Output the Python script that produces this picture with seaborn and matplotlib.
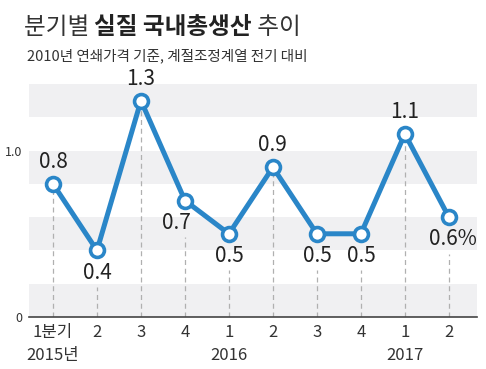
import matplotlib.pyplot as plt
import seaborn as sns
import pandas as pd

# data
quarters = ["1분기\n2015년", "2", "3", "4", "1\n2016", "2", "3", "4", "1\n2017", "2"]
growth = [0.8, 0.4, 1.3, 0.7, 0.5, 0.9, 0.5, 0.5, 1.1, 0.6]
label_text = ["0.8", "0.4", "1.3", "0.7", "0.5", "0.9", "0.5", "0.5", "1.1", "0.6%"]
label_above = [True, False, True, False, False, True, False, False, True, False]

sns.set_style("white")
plt.rcParams['font.family'] = ['Liberation Sans Narrow', 'Noto Sans CJK KR', 'DejaVu Sans']

df = pd.DataFrame({"pos": range(len(growth)), "growth": growth})

blue = "#2a86c8"
fig = plt.figure(figsize=(4.86, 3.69), dpi=100)
ax = fig.add_axes([29 / 486, 52 / 369, 448 / 486, 233 / 369])

# alternating grey bands
for lo in [0.0, 0.4, 0.8, 1.2]:
    ax.axhspan(lo, lo + 0.2, color="#f0f0f2", zorder=0, lw=0)

# dashed guide lines
for i, (v, up) in enumerate(zip(growth, label_above)):
    top = v if up else v - 0.22
    ax.plot([i, i], [0, top], ls=(0, (4, 3)), color="#b0b0b0", lw=0.9, zorder=1)

sns.lineplot(data=df, x="pos", y="growth", ax=ax, color=blue, lw=3.6,
             marker="o", markersize=10, markerfacecolor="white",
             markeredgecolor=blue, markeredgewidth=2.6, zorder=3)

for i, (v, t, up) in enumerate(zip(growth, label_text, label_above)):
    dx = 0
    if t == "0.7":
        dx = -6
    if t.endswith("%"):
        dx = 3
    ax.annotate(t, (i, v), xytext=(dx, 8 if up else -8), textcoords="offset points",
                ha="center", va="bottom" if up else "top", fontsize=15, color="#222222")

ax.set_xlim(-0.545, 9.64)
ax.set_ylim(0, 1.4)
ax.set_xticks(range(len(quarters)))
ax.set_xticklabels(quarters, fontsize=12, color="#333333", linespacing=1.5)
ax.set_yticks([0, 1.0])
ax.set_yticklabels(["0", "1.0"], fontsize=9, color="#333333")
ax.tick_params(axis="x", length=0, pad=5)
ax.tick_params(axis="y", length=0, pad=5)
ax.set_xlabel("")
ax.set_ylabel("")
for s in ["top", "right", "left"]:
    ax.spines[s].set_visible(False)
ax.spines["bottom"].set_color("#444444")
ax.spines["bottom"].set_linewidth(1.2)

# title with bold middle part
kr = ['Noto Sans CJK KR', 'DejaVu Sans']
t1 = fig.text(24 / 486, 1 - 34 / 369, "분기별 ", fontsize=17, family=kr, color="#333333", va="baseline")
a2 = ax.annotate("실질 국내총생산", xy=(1, 0), xycoords=t1, fontsize=17, family=kr,
                 weight="bold", color="#222222", va="bottom", annotation_clip=False)
ax.annotate(" 추이", xy=(1, 0), xycoords=a2, fontsize=17, family=kr,
            color="#333333", va="bottom", annotation_clip=False)
fig.text(27 / 486, 1 - 60 / 369, "2010년 연쇄가격 기준, 계절조정계열 전기 대비", fontsize=10.5,
         family=kr, color="#333333", va="baseline")

fig.savefig("out.png", dpi=100)
